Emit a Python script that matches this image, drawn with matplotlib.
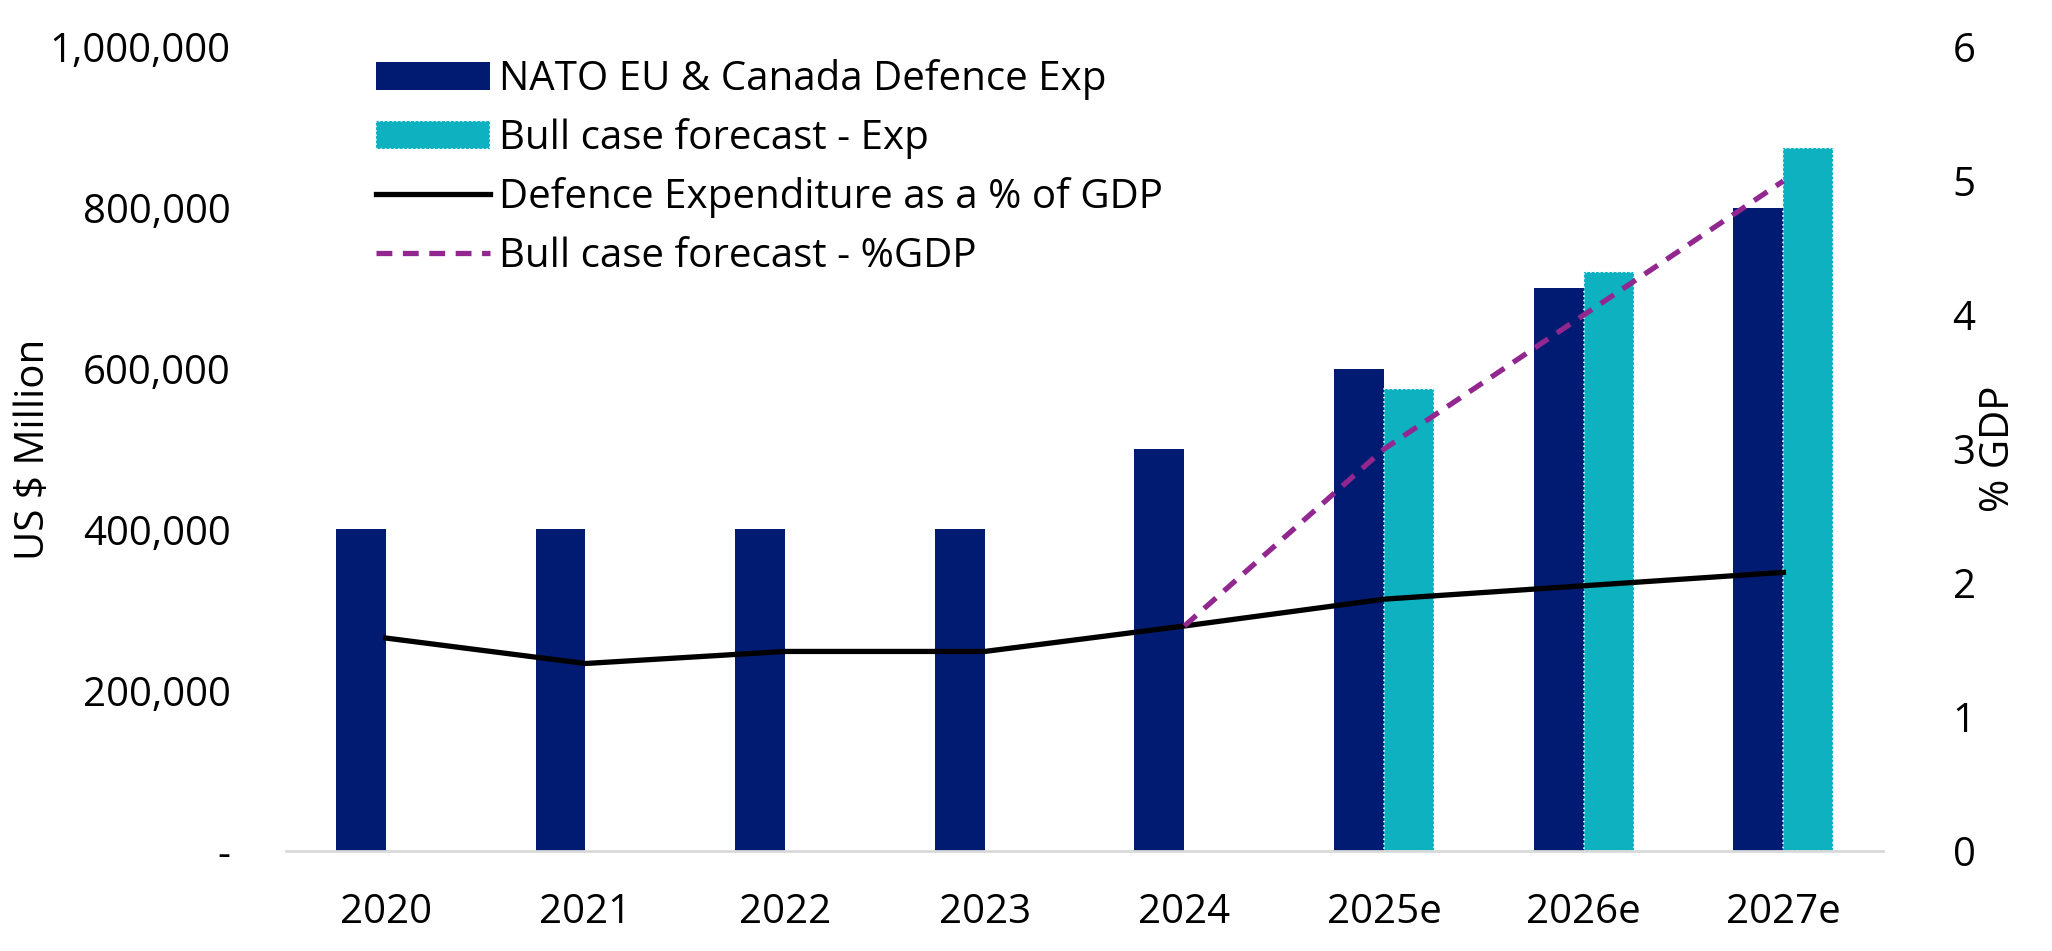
import matplotlib.pyplot as plt
import numpy as np
from matplotlib.ticker import FuncFormatter

plt.rcParams['font.family'] = ['Open Sans', 'DejaVu Sans']

years = ['2020', '2021', '2022', '2023', '2024', '2025e', '2026e', '2027e']
exp = [400000, 400000, 400000, 400000, 500000, 600000, 700000, 800000]
bull_exp = [np.nan, np.nan, np.nan, np.nan, np.nan, 575000, 720000, 875000]
gdp_pct = [1.59, 1.40, 1.49, 1.49, 1.68, 1.88, 1.98, 2.08]
bull_pct = [np.nan, np.nan, np.nan, np.nan, 1.68, 3.0, 4.0, 5.0]

navy = '#001B71'
cyan = '#0DB1C0'
purple = '#92278F'
fs = 29

fig = plt.figure(figsize=(20.52, 9.51), dpi=100)
ax = fig.add_axes([0.1394, 0.105, 0.7783, 0.8456])
ax2 = ax.twinx()

x = np.arange(len(years))
w = 0.25
ax.bar(x - w/2, exp, w, color=navy, label='NATO EU & Canada Defence Exp', zorder=2)
ax.bar(x + w/2, bull_exp, w, color=cyan, edgecolor='#e8f8fa', linestyle=':',
       linewidth=1.2, label='Bull case forecast - Exp', zorder=2)

ax2.plot(x, gdp_pct, color='black', lw=3.8, label='Defence Expenditure as a % of GDP')
ax2.plot(x, bull_pct, color=purple, lw=3.8, ls=(0, (3, 2)), label='Bull case forecast - %GDP')

ax.set_xlim(-0.5, 7.5)
ax.set_ylim(0, 1000000)
ax2.set_ylim(0, 6)
ax.set_yticks(np.arange(0, 1000001, 200000))
ax2.set_yticks(range(7))
ax.yaxis.set_major_formatter(FuncFormatter(lambda v, p: '-' if v == 0 else '{:,.0f}'.format(v)))
ax.set_xticks(x)
ax.set_xticklabels(years)

for a in (ax, ax2):
    for s in a.spines.values():
        s.set_visible(False)
    a.tick_params(length=0, labelsize=fs)
ax.spines['bottom'].set_visible(True)
ax.spines['bottom'].set_color('#d9d9d9')
ax.spines['bottom'].set_linewidth(2)
ax.tick_params(axis='y', pad=40)
ax.tick_params(axis='x', pad=30)
ax2.tick_params(axis='y', pad=50)

ax.set_ylabel('US $ Million', fontsize=fs)
ax.yaxis.set_label_coords(-0.145, 0.5)
ax2.set_ylabel('% GDP', fontsize=fs)
ax2.yaxis.set_label_coords(1.06, 0.5)

h1, l1 = ax.get_legend_handles_labels()
h2, l2 = ax2.get_legend_handles_labels()
ax2.legend(h1 + h2, l1 + l2, loc='upper left', bbox_to_anchor=(0.041, 1.015),
           frameon=False, fontsize=fs, handlelength=2.85, handletextpad=0.2,
           labelspacing=0.45, borderaxespad=0.2)

fig.savefig('out.png', dpi=100)
